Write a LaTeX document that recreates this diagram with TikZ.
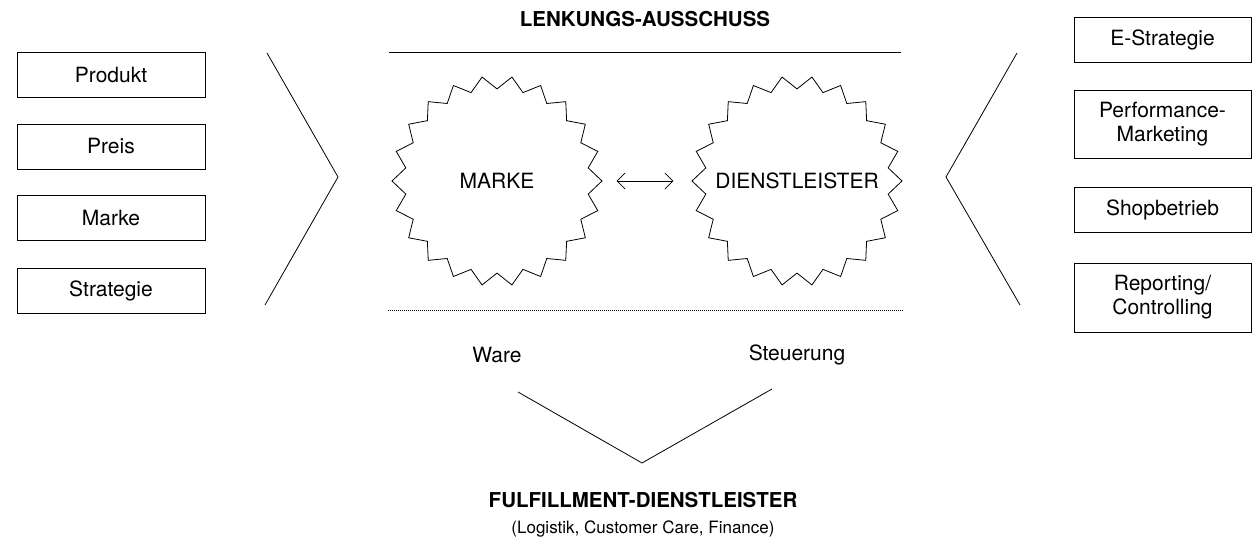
\documentclass[tikz,border=0pt]{standalone}
\usepackage{fontspec}
\setmainfont{TeX Gyre Heros}
\usetikzlibrary{shapes.geometric,arrows.meta}

\tikzset{
  feld/.style={draw, line width=0.8pt, minimum height=45pt, align=center,
    inner sep=2pt, font=\fontsize{21}{24}\selectfont},
  linksfeld/.style={feld, minimum width=188pt},
  rechtsfeld/.style={feld, minimum width=177pt},
  zacken/.style={draw, line width=0.8pt, star, star points=22, star point ratio=1.14,
    minimum size=210pt, inner sep=0pt, shape border rotate=8.18,
    label={[font=\fontsize{21}{24}\selectfont]center:#1}},
  titel/.style={font=\bfseries\fontsize{20.5}{24}\selectfont},
  etikett/.style={font=\fontsize{21}{24}\selectfont},
  spitze/.tip={Straight Barb[length=8pt,width=16pt]}
}

\begin{document}
\begin{tikzpicture}[x=1pt,y=-1pt,line width=0.8pt]
                \useasboundingbox (0,0) rectangle (1252,545);
                % links
                \node[linksfeld] (produkt) at (111,75) {Produkt};
                \node[linksfeld] (preis) at (111,146.5) {Preis};
                \node[linksfeld] (marke) at (111,218) {Marke};
                \node[linksfeld] (strategie) at (111,290.5) {Strategie};
                \draw (267,53)--(338,177)--(265,305);
                % mitte
                \node[titel] (lenkung) at (645,19) {LENKUNGS-AUSSCHUSS};
                \draw (389,52)--(901,52);
                \node[zacken=MARKE] (mk) at (497,181) {};
                \node[zacken=DIENSTLEISTER] (dl) at (797,181) {};
                \draw[spitze-spitze, shorten <=14pt, shorten >=18pt] (mk.east)--(dl.west);
                \draw[dash pattern=on 1pt off 1pt] (388,310)--(903,310);
                \node[etikett] (ware) at (497,355) {Ware};
                \node[etikett] (steuerung) at (797,355) {Steuerung};
                \draw (518,392)--(642,463)--(772,389);
                \node[titel] (fulfillment) at (643,500) {FULFILLMENT-DIENSTLEISTER};
                \node[font=\fontsize{17}{20}\selectfont] (bereiche) at (643,529) {(Logistik, Customer Care, Finance)};
                % rechts
                \draw (1017,53)--(946,177)--(1020,305);
                \node[rechtsfeld] (estrategie) at (1162.5,39.5) {E-Strategie};
                \node[rechtsfeld, minimum height=68pt] (performance) at (1162.5,124) {Performance-\\Marketing};
                \node[rechtsfeld] (shop) at (1162.5,210) {Shopbetrieb};
                \node[rechtsfeld, minimum height=69pt] (reporting) at (1162.5,297.5) {Reporting/\\Controlling};
            \end{tikzpicture}
\end{document}
